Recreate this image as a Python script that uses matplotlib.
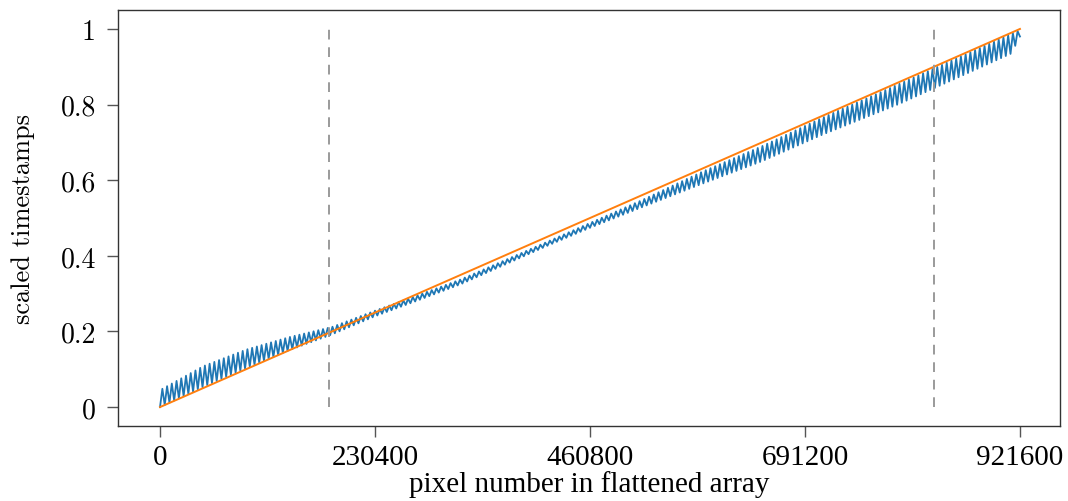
import numpy as np
import matplotlib
matplotlib.use("Agg")
import matplotlib.pyplot as plt

# ---- data ----
N_PIXELS = 921600
N_TEETH = 182                      # number of saw-teeth visible in the blue trace
# envelope of the blue trace, as deviation from the ideal diagonal
env_frac = [0.0, 0.05, 0.10, 0.15, 0.20, 0.25, 0.30, 0.35, 0.45, 0.50, 0.56, 0.63, 0.70, 0.77, 0.86, 0.99, 1.0]
env_upper = [0.045, 0.058, 0.052, 0.035, 0.012, 0.005, -0.004, -0.012, -0.013, -0.013, -0.013, -0.008, -0.010, -0.005, -0.005, -0.003, -0.003]
env_lower = [0.0, 0.003, 0.003, 0.0, -0.008, -0.010, -0.018, -0.025, -0.024, -0.026, -0.032, -0.040, -0.050, -0.050, -0.058, -0.055, -0.020]
ideal_x = [0, N_PIXELS]
ideal_y = [0.0, 1.0]
dashed_x = [181000, 830000]
xticks = [0, 230400, 460800, 691200, 921600]
xtick_labels = ["0", "230400", "460800", "691200", "921600"]
yticks = [0, 0.2, 0.4, 0.6, 0.8, 1.0]
ytick_labels = ["0", "0.2", "0.4", "0.6", "0.8", "1"]

# ---- build the blue saw-tooth trace from the envelope ----
fr = []
dev = []
for i in range(N_TEETH):
    f_lo = i / N_TEETH
    f_hi = (i + 0.5) / N_TEETH
    fr.append(f_lo)
    dev.append(np.interp(f_lo, env_frac, env_lower))
    fr.append(f_hi)
    dev.append(np.interp(f_hi, env_frac, env_upper))
fr.append(1.0)
dev.append(env_lower[-1])
fr = np.array(fr)
blue_x = fr * N_PIXELS
blue_y = fr + np.array(dev)

fig = plt.figure(figsize=(10.68, 5.02), dpi=100)
ax = fig.add_axes([0.1105, 0.1494, 0.882, 0.8286])

ax.plot(blue_x, blue_y, color="#1f77b4", lw=1.3)
ax.plot(ideal_x, ideal_y, color="#ff7f0e", lw=1.4)
ax.vlines(dashed_x, 0, 1, colors="#9a9a9a", linestyles=(0, (5, 4)), lw=1.4)

ax.set_xlim(-45000, 964500)
ax.set_ylim(-0.05, 1.05)

ax.set_xticks(xticks)
ax.set_xticklabels(xtick_labels, family="Liberation Serif", fontsize=21)
ax.set_yticks(yticks)
ax.set_yticklabels(ytick_labels, family="cmr10", fontsize=20)
ax.tick_params(length=8, width=1.0, color="#555555", pad=8)
ax.tick_params(axis="x", pad=5)

ax.set_xlabel("pixel number in flattened array", family="Liberation Serif", fontsize=21, labelpad=0)
ax.set_ylabel("scaled timestamps", family="cmr10", fontsize=19, labelpad=18)

for s in ax.spines.values():
    s.set_color("#333333")
    s.set_linewidth(1.0)

fig.savefig("out.png", dpi=100)
